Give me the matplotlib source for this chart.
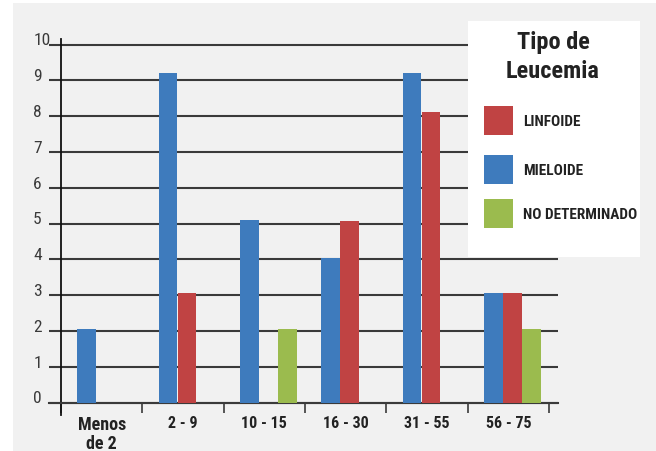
import numpy as np
import matplotlib
matplotlib.use('Agg')
import matplotlib.pyplot as plt
from matplotlib.patches import Rectangle
from matplotlib import font_manager as fm

# datos
categorias = ['Menos\nde 2', '2 - 9', '10 - 15', '16 - 30', '31 - 55', '56 - 75']
mieloide = [2.05, 9.19, 5.1, 4.05, 9.19, 3.05]
linfoide = [np.nan, 3.05, np.nan, 5.08, 8.11, 3.05]
no_det = [np.nan, np.nan, 2.05, np.nan, np.nan, 2.06]
series_nombres = ['LINFOIDE', 'MIELOIDE', 'NO DETERMINADO']
y_ticks = list(range(0, 11))

c_blue = '#3e7bbd'
c_red = '#c04343'
c_green = '#9bbb4e'

# fuente estrecha si hay, si no Liberation Sans (metricas de Arial)
nombres = {f.name for f in fm.fontManager.ttflist}
narrow = None
for n in ['Liberation Sans Narrow', 'Roboto Condensed', 'Open Sans Condensed']:
    if n in nombres:
        narrow = n
        break
fuente = [narrow, 'Liberation Sans', 'DejaVu Sans'] if narrow else ['Liberation Sans', 'DejaVu Sans']

W, H = 656, 452
fig = plt.figure(figsize=(W / 100, H / 100), dpi=100, facecolor='white')
# fondo gris con margen blanco arriba/izquierda
fig.add_artist(Rectangle((13 / W, 0), 1 - 13 / W, 1 - 4 / H, transform=fig.transFigure,
                         facecolor='#f1f1f1', edgecolor='none', zorder=0))

# axes en pixeles
ax = fig.add_axes([49 / W, 1 - 416 / H, (558 - 49) / W, (416 - 40) / H])
ax.patch.set_alpha(0)
ax.set_xlim(-12 / 81.33, 6 + 9 / 81.33)
ax.set_ylim(-12.5 / 35.8, 10 + 5.5 / 35.8)

x = np.arange(len(categorias))
w = 0.231
ax.bar(x + 0.316, mieloide, w, color=c_blue, zorder=3)
ax.bar(x + 0.550, linfoide, w, color=c_red, zorder=3)
ax.bar(x + 0.782, no_det, w, color=c_green, zorder=3)

for s in ['top', 'right']:
    ax.spines[s].set_visible(False)
ax.spines['left'].set_position(('data', 0))
ax.spines['left'].set_color('#111111')
ax.spines['left'].set_linewidth(1.3)
ax.spines['bottom'].set_position(('data', 0))
ax.spines['bottom'].set_color('#3a3a3a')
ax.spines['bottom'].set_linewidth(1.5)

ax.set_xticks(np.arange(0, 7))
ax.set_xticklabels([])
ax.tick_params(axis='x', which='major', direction='out', length=7, width=1.2, color='#3a3a3a')
ax.set_xticks(x + 0.5, minor=True)
ax.set_xticklabels(categorias, minor=True)
ax.tick_params(axis='x', which='minor', length=0, pad=9)
tam_x = (11.5, 13) if narrow else (10, 12)
for i, lab in enumerate(ax.get_xticklabels(minor=True)):
    lab.set_fontfamily(fuente)
    lab.set_fontweight('bold')
    lab.set_color('#222222')
    lab.set_fontsize(tam_x[1] if i == 0 else tam_x[0])
    lab.set_linespacing(1.1)

# rejilla y etiquetas del eje y (alineadas a la izquierda)
ax.set_yticks(y_ticks)
ax.set_yticklabels([str(v) for v in y_ticks])
ax.yaxis.grid(True, color='#3a3a3a', lw=1.5, zorder=1)
ax.tick_params(axis='y', length=0, pad=20)
for lab in ax.get_yticklabels():
    lab.set_ha('left')
    lab.set_va('baseline')
    lab.set_fontfamily(fuente)
    lab.set_fontsize(12.5)
    lab.set_color('#3a3a3a')

# leyenda a mano
def fx(px):
    return px / W

def fy(py):
    return 1 - py / H

renderer = fig.canvas.get_renderer()

def ajustar(t, ancho_px):
    bb = t.get_window_extent(renderer)
    t.set_fontsize(t.get_fontsize() * ancho_px / bb.width)

fig.add_artist(Rectangle((fx(468), fy(258)), fx(640) - fx(468), fy(22) - fy(258),
                         transform=fig.transFigure, facecolor='white', edgecolor='none', zorder=5))
t1 = fig.text(fx(553), fy(43), 'Tipo de', ha='center', va='center', fontsize=17,
              fontweight='bold', family=fuente, color='#222222', zorder=6)
t2 = fig.text(fx(553), fy(72), 'Leucemia', ha='center', va='center', fontsize=17,
              fontweight='bold', family=fuente, color='#222222', zorder=6)
ajustar(t2, 94)
t1.set_fontsize(t2.get_fontsize())
colores = [c_red, c_blue, c_green]
tops = [107, 156, 200]
etiquetas = []
for nom, col, t in zip(series_nombres, colores, tops):
    fig.add_artist(Rectangle((fx(484), fy(t + 28.5)), fx(512.5) - fx(484), 28.5 / H,
                             transform=fig.transFigure, facecolor=col, edgecolor='none', zorder=6))
    etiquetas.append(fig.text(fx(523), fy(t + 15), nom, ha='left', va='center', fontsize=11,
                              fontweight='bold', family=fuente, color='#222222', zorder=6))
ajustar(etiquetas[2], 114)
for e in etiquetas[:2]:
    e.set_fontsize(etiquetas[2].get_fontsize())

fig.savefig('out.png', dpi=100, facecolor=fig.get_facecolor())
